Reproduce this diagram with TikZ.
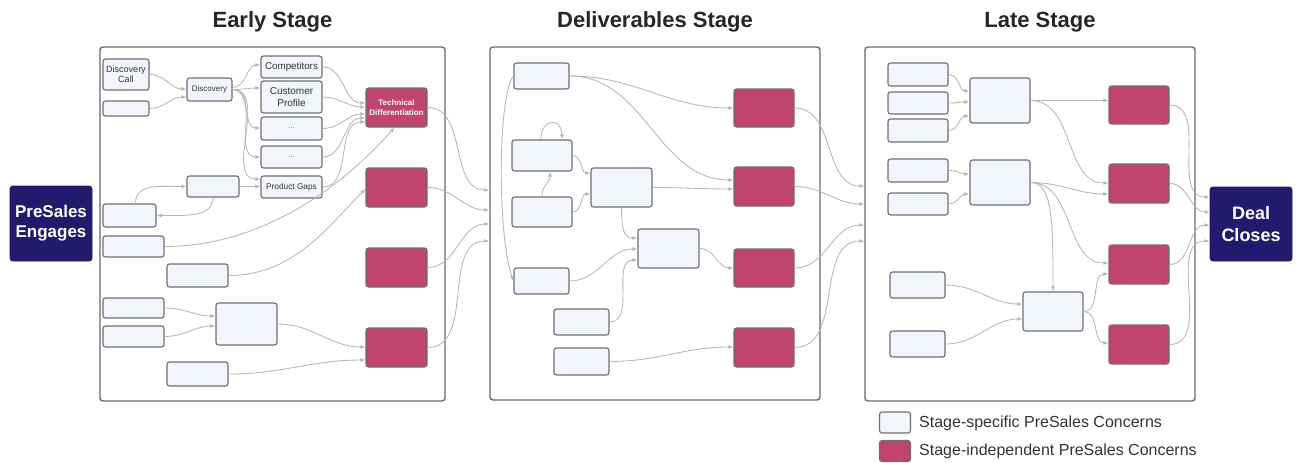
\documentclass[tikz,border=0pt]{standalone}
\usepackage{fontspec}
\setmainfont{Liberation Sans}
\usetikzlibrary{arrows.meta}

\definecolor{navy}{RGB}{35,26,110}
\definecolor{indepfill}{RGB}{192,67,112}
\definecolor{concernfill}{RGB}{242,245,252}
\definecolor{nodeline}{RGB}{110,110,116}
\definecolor{framecol}{RGB}{105,105,105}
\definecolor{linkcol}{RGB}{182,182,182}
\definecolor{txt}{RGB}{50,50,50}

\begin{document}
\begin{tikzpicture}[x=1pt,y=-1pt,
  sz/.style 2 args={minimum width=#1, minimum height=#2},
  concern/.style={draw=nodeline, fill=concernfill, line width=1.1pt, rounded corners=2.5pt,
    inner sep=1pt, align=center, text=txt},
  indep/.style={draw=nodeline, fill=indepfill, line width=1.1pt, rounded corners=2.5pt,
    inner sep=1pt, align=center, text=white},
  stagebox/.style={draw=framecol, line width=1.4pt, rounded corners=3pt, inner sep=0pt},
  milestone/.style={fill=navy, draw=navy!85!black, line width=0.8pt, rounded corners=3pt,
    text=white, align=center, inner sep=1pt},
  stagetitle/.style={font=\bfseries\fontsize{22}{26}\selectfont, text=black!85},
  link/.style={draw=linkcol, line width=0.85pt, -{Latex[length=5pt,width=4pt]}},
  legendtext/.style={anchor=west, inner sep=0pt, font=\fontsize{16}{19}\selectfont, text=black!80},
]
\useasboundingbox (0,0) rectangle (1296,463);

% ---------- stage frames and titles ----------
\node[stagebox, sz={345}{354}] (fe) at (272.5,224) {};
\node[stagebox, sz={330}{353}] (fd) at (655,223.5) {};
\node[stagebox, sz={330}{354}] (fl) at (1030,224) {};
\node[stagetitle] (te) at (272.5,22) {Early Stage};
\node[stagetitle] (td) at (655,22) {Deliverables Stage};
\node[stagetitle] (tl) at (1040,22) {Late Stage};

% ---------- start and end ----------
\node[milestone, sz={82}{75}, font=\bfseries\fontsize{17}{20}\selectfont] (pse) at (51,223.5) {PreSales\\Engages};
\node[milestone, sz={82}{74}, font=\bfseries\fontsize{18}{22}\selectfont] (dcl) at (1251,224) {Deal\\Closes};

% ---------- early stage ----------
\node[concern, sz={46}{31}, font=\fontsize{9}{10.5}\selectfont] (dcall) at (126,74.5) {Discovery\\Call};
\node[concern, sz={46}{15}] (e0) at (126,108.5) {};
\node[concern, sz={45}{23}, font=\fontsize{8}{9}\selectfont] (disc) at (209.5,89.5) {Discovery};
\node[concern, sz={61}{22}, font=\fontsize{9.8}{11}\selectfont] (comp) at (291.5,67) {Competitors};
\node[concern, sz={61}{32}, font=\fontsize{10}{11.5}\selectfont] (cprof) at (291.5,97) {Customer\\Profile};
\node[concern, sz={61}{23}, font=\fontsize{8}{9}\selectfont, text=black!55] (dots1) at (291.5,128.5) {...};
\node[concern, sz={61}{22}, font=\fontsize{8}{9}\selectfont, text=black!55] (dots2) at (291.5,157) {...};
\node[concern, sz={61}{22}, font=\fontsize{8.3}{9.5}\selectfont] (pgaps) at (291.5,187) {Product Gaps};
\node[indep, sz={61}{39}, font=\bfseries\fontsize{8}{10}\selectfont] (tdiff) at (396.5,107.5) {Technical\\Differentiation};
\node[indep, sz={61}{39}] (em2) at (396.5,187.5) {};
\node[indep, sz={61}{39}] (em3) at (396.5,267.5) {};
\node[indep, sz={61}{39}] (em4) at (396.5,347.5) {};
\node[concern, sz={52}{21}] (gfeed) at (213,186.5) {};
\node[concern, sz={53}{23}] (e1) at (129.5,215.5) {};
\node[concern, sz={61}{21}] (e2) at (133.5,246.5) {};
\node[concern, sz={61}{23}] (e3) at (197.5,275.5) {};
\node[concern, sz={61}{20}] (e4) at (133.5,308) {};
\node[concern, sz={61}{21}] (e5) at (133.5,336.5) {};
\node[concern, sz={61}{42}] (ebig) at (246.5,324) {};
\node[concern, sz={61}{24}] (e6) at (197.5,374) {};

% ---------- deliverables stage ----------
\node[concern, sz={55}{26}] (d1) at (541.5,76) {};
\node[concern, sz={60}{31}] (d2) at (542,155.5) {};
\node[concern, sz={61}{39}] (d3) at (621.5,187.5) {};
\node[concern, sz={60}{30}] (d4) at (542,212) {};
\node[concern, sz={61}{39}] (d5) at (668.5,248.5) {};
\node[concern, sz={55}{26}] (d6) at (541.5,281) {};
\node[concern, sz={55}{26}] (d7) at (581.5,322) {};
\node[concern, sz={55}{27}] (d8) at (581.5,361.5) {};
\node[indep, sz={60}{38}] (dm1) at (764,108) {};
\node[indep, sz={60}{39}] (dm2) at (764,186.5) {};
\node[indep, sz={60}{38}] (dm3) at (764,268) {};
\node[indep, sz={60}{39}] (dm4) at (764,347.5) {};

% ---------- late stage ----------
\node[concern, sz={60}{23}] (l1) at (918,74.5) {};
\node[concern, sz={60}{22}] (l2) at (918,103) {};
\node[concern, sz={60}{23}] (l3) at (918,130.5) {};
\node[concern, sz={60}{45}] (la) at (1000,100.5) {};
\node[concern, sz={60}{23}] (l4) at (918,170.5) {};
\node[concern, sz={60}{22}] (l5) at (918,204) {};
\node[concern, sz={60}{45}] (lb) at (1000,182.5) {};
\node[concern, sz={55}{26}] (l6) at (917.5,285) {};
\node[concern, sz={55}{26}] (l7) at (917.5,344) {};
\node[concern, sz={60}{39}] (lc) at (1053,311.5) {};
\node[indep, sz={60}{38}] (lm1) at (1139,105) {};
\node[indep, sz={60}{39}] (lm2) at (1139,183.5) {};
\node[indep, sz={60}{39}] (lm3) at (1139,264.5) {};
\node[indep, sz={60}{39}] (lm4) at (1139,344.5) {};

% ---------- legend ----------
\node[concern, sz={31}{21}] (kc) at (895,422.5) {};
\node[indep, sz={31}{21}] (ki) at (895,451) {};
\node[legendtext] (kct) at (919,423) {Stage-specific PreSales Concerns};
\node[legendtext] (kit) at (919,451.5) {Stage-independent PreSales Concerns};

% ---------- early stage links ----------
\draw[link] (dcall.east) to[out=0,in=180] (disc.west |- 0,89);
\draw[link] (e0.east) to[out=0,in=180] (disc.west |- 0,97);
\draw[link] ([yshift=2pt]disc.east) to[out=0,in=180] (comp.west |- 0,65);
\draw[link] (disc.east) to[out=0,in=180] (cprof.west |- 0,88);
\draw[link] (disc.east) to[out=0,in=180] (dots1.west |- 0,128);
\draw[link] (disc.east) to[out=0,in=180] (dots2.west |- 0,157);
\draw[link] (disc.east) to[out=0,in=180] (pgaps.west |- 0,179);
\draw[link] (comp.east) to[out=0,in=180] (tdiff.west |- 0,103);
\draw[link] (cprof.east) to[out=0,in=180] (tdiff.west |- 0,107);
\draw[link] (dots1.east) to[out=0,in=180] (tdiff.west |- 0,114);
\draw[link] (dots2.east) to[out=0,in=180] (tdiff.west |- 0,118);
\draw[link] (pgaps.east) to[out=0,in=180] (tdiff.west |- 0,122);
\draw[link] (gfeed.east) -- (pgaps.west |- gfeed.east);
\draw[link] ([xshift=6pt]e1.north) .. controls +(0,-20) and +(-28,0) .. (gfeed.west);
\draw[link] (gfeed.south) .. controls +(0,20) and +(28,0) .. (e1.east);
\draw[link] (e2.east) .. controls +(95,0) and +(-55,62) .. ([xshift=-2pt]tdiff.south);
\draw[link] (e3.east) .. controls +(65,0) and +(-38,38) .. (em2.west |- 0,189);
\draw[link] (e4.east) to[out=0,in=180] (ebig.west |- 0,316);
\draw[link] (e5.east) to[out=0,in=180] (ebig.west |- 0,326);
\draw[link] (ebig.east) to[out=0,in=180] (em4.west |- 0,347);
\draw[link] (e6.east) to[out=0,in=180] (em4.west |- 0,360);

% ---------- early to deliverables ----------
\draw[link] (tdiff.east) to[out=0,in=180] (fd.west |- 0,190);
\draw[link] (em2.east) to[out=0,in=180] (fd.west |- 0,210);
\draw[link] (em3.east) to[out=0,in=180] (fd.west |- 0,224);
\draw[link] (em4.east) to[out=0,in=180] (fd.west |- 0,241);

% ---------- deliverables stage links ----------
\draw[link] (d1.east) to[out=0,in=180] (dm1.west);
\draw[link] (d1.east) to[out=0,in=180] (dm2.west |- 0,180);
\draw[link] (d1.west) .. controls +(-16,20) and +(-16,-45) .. (d6.west);
\draw[link] ([xshift=-1pt]d2.north) .. controls +(0,-22) and +(0,-22) .. ([xshift=20pt]d2.north);
\draw[link] (d4.north) .. controls +(0,-12) and +(0,12) .. ([xshift=8pt]d2.south);
\draw[link] (d2.east) to[out=0,in=180] (d3.west |- 0,173);
\draw[link] (d4.east) to[out=0,in=180] (d3.west |- 0,194);
\draw[link] (d3.east) to[out=0,in=180] (dm2.west |- 0,189);
\draw[link] (d3.south) .. controls +(0,26) and +(-12,0) .. (d5.west |- 0,238);
\draw[link] (d6.east) to[out=0,in=180] (d5.west |- 0,249);
\draw[link] (d7.east) to[out=0,in=180] (d5.west |- 0,260);
\draw[link] (d5.east) to[out=0,in=180] (dm3.west);
\draw[link] (d8.east) to[out=0,in=180] (dm4.west |- 0,347);

% ---------- deliverables to late ----------
\draw[link] (dm1.east) to[out=0,in=180] (fl.west |- 0,186);
\draw[link] (dm2.east) to[out=0,in=180] (fl.west |- 0,204);
\draw[link] (dm3.east) to[out=0,in=180] (fl.west |- 0,225);
\draw[link] (dm4.east) to[out=0,in=180] (fl.west |- 0,241);

% ---------- late stage links ----------
\draw[link] (l1.east) to[out=0,in=180] (la.west |- 0,91);
\draw[link] (l2.east) to[out=0,in=180] (la.west |- 0,102);
\draw[link] (l3.east) to[out=0,in=180] (la.west |- 0,116);
\draw[link] (la.east) -- (lm1.west |- la.east);
\draw[link] (la.east) to[out=0,in=180] (lm2.west |- 0,183);
\draw[link] (l4.east) to[out=0,in=180] (lb.west |- 0,174);
\draw[link] (l5.east) to[out=0,in=180] (lb.west |- 0,194);
\draw[link] (lb.east) to[out=0,in=180] (lm2.west |- 0,194);
\draw[link] (lb.east) .. controls +(22,0) and +(0,-70) .. (lc.north);
\draw[link] (lb.east) to[out=0,in=180] (lm3.west |- 0,263);
\draw[link] (l6.east) to[out=0,in=180] (lc.west |- 0,304);
\draw[link] (l7.east) to[out=0,in=180] (lc.west |- 0,319);
\draw[link] (lc.east) to[out=0,in=180] (lm3.west |- 0,274);
\draw[link] (lc.east) to[out=0,in=180] (lm4.west |- 0,343);

% ---------- late to deal closes ----------
\draw[link] (lm1.east) to[out=0,in=180] (dcl.west |- 0,197);
\draw[link] (lm2.east) to[out=0,in=180] (dcl.west |- 0,212);
\draw[link] (lm3.east) to[out=0,in=180] (dcl.west |- 0,225);
\draw[link] (lm4.east) to[out=0,in=180] (dcl.west |- 0,241);
\end{tikzpicture}
\end{document}
